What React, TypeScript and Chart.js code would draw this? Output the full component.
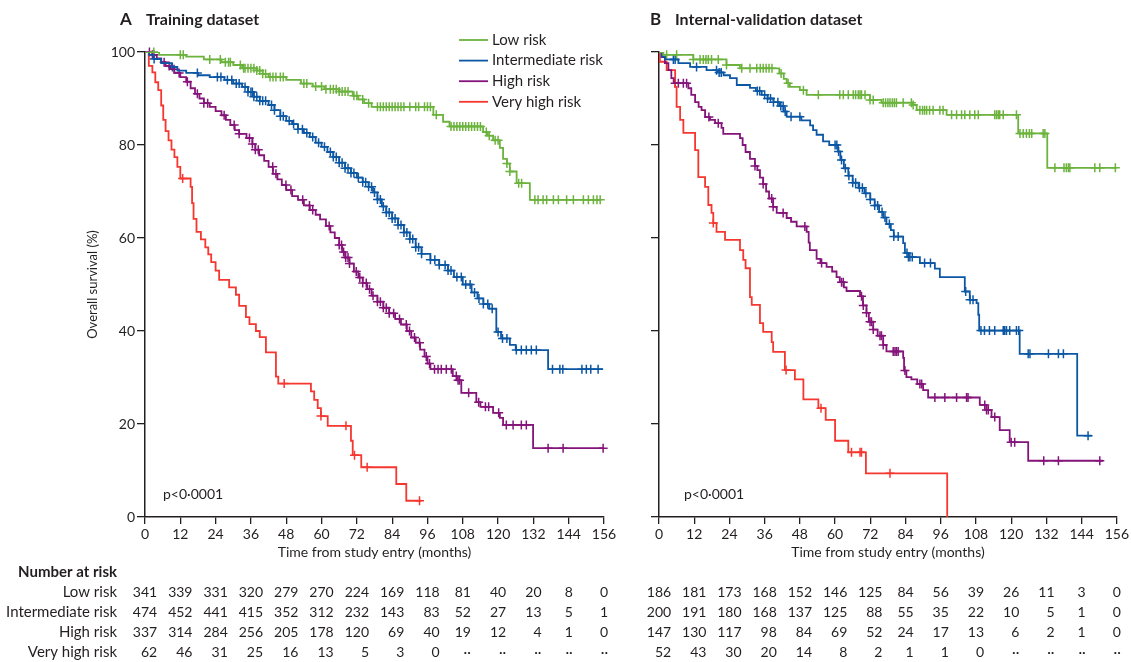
import React, { useEffect, useRef } from 'react';
import { Chart, registerables } from 'chart.js';
Chart.register(...registerables);

const FONT = 'Lato';
const TEXT = '#231f20';
const AXIS = '#231f20';
const GREEN = '#6cb33e';
const BLUE = '#0b57a4';
const PURPLE = '#84137a';
const RED = '#f5372f';

const GROUPS = ['Low risk', 'Intermediate risk', 'High risk', 'Very high risk'];
const COLORS = [GREEN, BLUE, PURPLE, RED];
const X_TITLE = 'Time from study entry (months)';
const Y_TITLE = 'Overall survival (%)';
const P_TEXT = 'p<0\u00b70001';
const RISK_TIMES = [0, 12, 24, 36, 48, 60, 72, 84, 96, 108, 120, 132, 144, 156];

// ---------- Panel A: training dataset ----------
const A_LOW_T = [0, 4.8, 14, 20, 26, 30, 33, 38, 40, 42, 48, 53, 57, 61, 66, 70.6, 72.5, 74.5, 77, 98, 101.3, 103.5, 114.9, 116.5, 118.3, 120.6, 121.7, 123, 124, 126.3, 130.8, 154.7];
const A_LOW_S = [100, 99.4, 99.0, 98.4, 97.8, 97.2, 96.5, 96.0, 95.3, 94.6, 94.0, 93.2, 92.6, 92.0, 91.5, 90.6, 89.8, 89.0, 88.2, 86.5, 85.0, 84.0, 82.8, 82.0, 81.0, 79.4, 77.0, 76.0, 74.3, 71.8, 68.2, 68.2];
const A_LOW_C = [3, 12, 13, 22, 25.6, 27.3, 28.4, 29, 32.4, 33.5, 34, 35, 36, 37, 38, 39, 40, 41, 42.5, 43.5, 44.5, 46, 47, 54, 55, 58, 60, 61.5, 63, 64, 65, 66, 67, 68, 69, 71, 72, 74, 76, 79, 80, 81, 82, 83, 84, 85, 86, 87, 88, 90, 92, 93, 95, 96, 97, 99, 104, 105, 106, 107, 108, 109, 110, 111, 112, 113, 114, 116, 117, 119, 120, 123, 124, 127, 128, 132.5, 133.6, 135.3, 136.5, 138.8, 140.5, 143.3, 145.6, 149, 150.7, 152.4, 153.6, 154.7];

const A_INT_T = [0, 1.4, 3, 5.5, 9, 11, 14, 18, 22, 27, 30, 33, 35, 37, 39, 42, 44, 46, 48, 50, 52, 54, 56, 58, 60, 62, 64, 66, 68, 70, 72, 74, 76, 77.5, 79, 80.5, 82, 84, 86, 88, 90, 92, 94, 97, 100, 103, 105, 108, 111, 113, 115, 117, 119.4, 121, 124, 126, 137, 155.7];
const A_INT_S = [100, 99.4, 98.5, 97.6, 96.8, 96.0, 95.5, 95.0, 94.6, 94.0, 93.2, 92.5, 91.4, 90.4, 89.5, 88.6, 87.5, 86.2, 85.2, 84.5, 83.4, 82.6, 81.7, 80.5, 79.6, 78.5, 77.4, 76.2, 75.0, 74.0, 73.0, 72.0, 71.0, 69.8, 68.3, 66.8, 65.5, 64.2, 62.8, 61.2, 59.8, 58.0, 56.6, 55.3, 54.2, 53.0, 51.6, 50.0, 48.3, 47.0, 45.8, 44.8, 39.8, 38.4, 37.0, 35.9, 31.8, 31.8];
const A_INT_C = [3.1, 9.3, 17.8, 24.6, 25.8, 28, 29.5, 31, 32, 34, 35, 36, 36.5, 37, 38, 39, 40, 41, 43, 44, 46, 47, 49, 50.5, 52, 53.5, 55, 57, 59, 61, 63, 64, 65, 66, 67, 68, 69, 70, 71, 72.5, 74, 75, 76, 77, 78, 79, 80, 81, 82, 83, 84, 85, 86, 87, 88, 89, 90, 91, 92, 93, 94, 97, 98.5, 100, 102, 103, 104, 106, 107.5, 109, 110.5, 112, 113.5, 115, 116.5, 118, 120, 121.5, 123, 126.2, 127.9, 129.6, 131.3, 133, 138.5, 141, 142, 148.5, 150, 151.5, 154];

const A_HIGH_T = [0, 2.5, 4, 5.5, 7, 8.5, 10, 12, 14, 15.5, 17, 18.5, 20, 22, 24, 26, 27.5, 29, 30.5, 32, 34.5, 36.5, 37.5, 38.8, 40.5, 42, 43.5, 45, 46.5, 48, 50, 52, 54, 56, 58, 59.5, 61.5, 63, 64.5, 66, 67, 68, 69.5, 71, 72.5, 74, 75.5, 77, 79, 81, 83, 85, 87, 89, 90.5, 92, 93.5, 95, 96, 97, 104.6, 106, 107.5, 112.6, 114, 118.3, 120.6, 121.7, 131.9, 156];
const A_HIGH_S = [100, 99.4, 98.6, 97.8, 97.0, 96.3, 95.5, 94.6, 93.6, 92.2, 91.0, 90.0, 89.0, 88.2, 87.3, 86.4, 85.4, 84.3, 83.2, 82.4, 81.5, 80.2, 79.0, 77.8, 76.6, 75.3, 73.8, 72.6, 71.4, 70.3, 69.0, 68.2, 67.0, 66.0, 65.0, 64.0, 62.6, 61.2, 60.0, 58.5, 57.0, 55.8, 54.5, 52.8, 51.5, 50.3, 49.0, 47.6, 46.3, 45.0, 43.8, 42.6, 41.4, 40.0, 38.6, 37.5, 36.0, 34.5, 33.0, 31.8, 30.3, 29.4, 26.7, 24.7, 23.7, 22.4, 21.3, 19.8, 14.8, 14.8];
const A_HIGH_C = [1.5, 2.5, 3, 6.5, 8.2, 9.9, 11.6, 14.4, 17.8, 20, 21.3, 26.9, 30.3, 32, 35.5, 36.5, 37.5, 38.5, 43.4, 44.5, 47.9, 49.6, 53.6, 55.9, 57, 62.6, 66, 66.8, 67.5, 68.2, 69, 69.5, 71.8, 73, 74, 75.2, 76.3, 77.5, 79, 80, 81, 82, 83, 84.5, 86.5, 88.8, 89.9, 91.6, 93.3, 95.6, 96.7, 98.4, 99.6, 100.7, 102.4, 104.1, 105.8, 106.4, 106.9, 110, 113.4, 115.7, 116.8, 120.2, 122.8, 125.1, 127.9, 129.6, 137, 142.1, 155.7];

const A_VHIGH_T = [0, 1.3, 2.5, 3.5, 4.5, 5.5, 6.2, 7, 8, 9, 10, 11, 12, 15.5, 16, 16.5, 17.5, 19, 20.5, 21.5, 22.5, 24, 25.2, 28.6, 30.9, 32, 34.3, 35.5, 37.7, 39, 41.1, 44.5, 45.3, 56.4, 57.5, 58.7, 59.8, 62.1, 70, 70.6, 73.5, 85.4, 88.8, 93.9];
const A_VHIGH_S = [100, 97, 95.6, 93.5, 91.8, 88.5, 85.4, 83, 81, 79, 77.4, 75.3, 72.8, 71, 67.5, 64.1, 61.3, 59.7, 58, 56.5, 54.8, 53, 51, 49.4, 47.8, 45.4, 43, 41.5, 40, 38.7, 35.4, 30.2, 28.7, 27, 25.2, 23.4, 21.7, 19.6, 16.4, 13.3, 10.7, 7.1, 3.5, 3.5];
const A_VHIGH_C = [12.8, 47.3, 59.8, 68.3, 71.2, 75.5, 93.3];

const A_RISK_LOW = [341, 339, 331, 320, 279, 270, 224, 169, 118, 81, 40, 20, 8, 0];
const A_RISK_INT = [474, 452, 441, 415, 352, 312, 232, 143, 83, 52, 27, 13, 5, 1];
const A_RISK_HIGH = [337, 314, 284, 256, 205, 178, 120, 69, 40, 19, 12, 4, 1, 0];
const A_RISK_VHIGH = [62, 46, 31, 25, 16, 13, 5, 3, 0, null, null, null, null, null];

// ---------- Panel B: internal-validation dataset ----------
const B_LOW_T = [0, 1.5, 11.7, 23, 27.6, 41, 42.5, 43.5, 44.6, 48, 50.3, 71.9, 75.8, 86.6, 87.8, 98, 122.4, 132.3, 156];
const B_LOW_S = [100, 99.4, 98.4, 97.2, 96.5, 95.4, 94.2, 93.3, 92.5, 91.8, 90.8, 89.7, 89.1, 88.6, 87.5, 86.5, 82.5, 75.1, 75.1];
const B_LOW_C = [2.6, 6, 11.7, 14, 15.1, 16, 16.8, 17.9, 20.2, 23, 28.2, 31, 33.3, 34.5, 35.5, 36.5, 37.5, 38.5, 41.6, 44, 49.2, 54.3, 61.6, 62.8, 64.5, 66.2, 67, 67.9, 68.5, 69, 70.2, 71.9, 73, 76.4, 77.2, 78, 78.7, 79.5, 80.2, 80.9, 83.2, 86, 86.6, 88.9, 89.8, 90.5, 91.2, 92.2, 93.4, 95.7, 96.8, 99.7, 101.4, 103.1, 104.2, 105.9, 107.6, 108.8, 114.4, 115, 115.6, 116.1, 117.3, 121.8, 123, 124.1, 125.2, 126.2, 127, 130.9, 131.5, 134.9, 138, 138.8, 139.5, 140, 148.5, 150.2, 155.5];

const B_INT_T = [0, 0.9, 2, 6.6, 10.6, 16.2, 20, 22, 24.2, 26.5, 31, 33, 35, 37, 39, 41, 42.5, 43.5, 48.5, 51.5, 52.5, 53.7, 55.9, 58, 61, 61.8, 63, 64.5, 66, 68, 70, 72, 73.5, 75, 76.4, 77.5, 79, 80, 83.2, 83.8, 85, 88.9, 94, 95.7, 104.2, 105.9, 108.2, 108.8, 109.1, 122.9, 142.5, 147.4];
const B_INT_S = [100, 99, 98.4, 97.6, 96.8, 96.1, 95.6, 95, 94.4, 92.9, 92.3, 91.6, 90.8, 90, 89.2, 88.4, 87.2, 86.1, 85.3, 84.2, 83.2, 82.2, 80.8, 80, 78.6, 76.8, 75, 73.4, 71.9, 70.8, 69.6, 68.3, 67, 65.6, 64.4, 63, 61.7, 60.3, 58.9, 56.8, 55.9, 54.6, 53.4, 51.6, 48.5, 46.7, 46, 43.5, 40.1, 35.1, 17.5, 17.5];
const B_INT_C = [4.9, 5.5, 12.8, 19.6, 20.5, 21.2, 33.5, 34.3, 36, 37, 38, 39, 40.5, 41.5, 42.3, 43, 45, 48, 60, 60.6, 61.2, 62.2, 63.5, 64.7, 66, 67, 68.3, 69.3, 70.5, 72, 73.5, 74.5, 76, 77, 78.5, 80, 81.5, 84.5, 85, 85.5, 86.3, 90.5, 92.5, 104.5, 106, 107, 109.7, 110.9, 112.6, 114.4, 117.3, 117.8, 118.4, 119.5, 121.8, 122.6, 125.8, 126.4, 132.7, 136.1, 137.8, 146.2];

const B_HIGH_T = [0, 0.9, 2, 3.2, 4.2, 5, 10, 11, 12.3, 13.5, 14.5, 15.7, 17.4, 19.1, 21.3, 21.9, 27.6, 28.5, 29.5, 31, 32.7, 33.5, 34.4, 35.5, 36.5, 37.5, 38.9, 40.1, 43.5, 45, 46.9, 50.3, 51, 51.4, 53.7, 55, 57.1, 59, 60.5, 61.6, 63, 63.9, 68.5, 69.5, 70.7, 71.5, 73, 74.5, 76.4, 77.5, 83.2, 83.5, 84.3, 86, 88, 90, 91.7, 109.3, 111.6, 113.3, 116.1, 119.5, 125.8, 151.3];
const B_HIGH_S = [100, 98.9, 97.6, 96.1, 94.4, 93.3, 92.2, 90.8, 89.2, 88.2, 87.5, 86, 85.4, 84.7, 83.7, 82.4, 81.5, 80, 78.5, 77, 75.5, 74.6, 73, 71.6, 70, 68.5, 66.7, 65.4, 64.3, 63.5, 62.5, 61.3, 59, 57.4, 55.5, 54.6, 53.8, 52.8, 51.6, 50.5, 49.4, 48.6, 47.5, 45.5, 43.9, 42, 40.3, 39, 37, 35.6, 34.2, 31.5, 30.1, 29.6, 28.6, 27.3, 25.7, 24.1, 23, 21.5, 18.7, 16.1, 12.1, 12.1];
const B_HIGH_C = [5.5, 6.6, 8.3, 9.4, 17, 20.2, 32.7, 35.5, 38.4, 38.9, 42.3, 49.7, 55.4, 62.2, 62.8, 69, 69.6, 70.7, 71.9, 72.4, 73, 75.3, 75.8, 76.4, 79.8, 80.4, 80.9, 81.5, 83.8, 88.9, 89.5, 94, 97.4, 101.4, 104.8, 105.3, 111, 111.6, 112.2, 114.4, 120, 121.2, 131.1, 136.1, 150.2];

const B_VHIGH_T = [0, 0.3, 2.6, 5.5, 6, 7.2, 8.3, 12.3, 13.4, 15.7, 16.8, 17.9, 18.5, 19.6, 22.5, 27.6, 28.7, 29.5, 31, 31.6, 34.4, 35.5, 38.4, 38.9, 42.9, 46.3, 49.2, 54.3, 56.8, 60, 64.5, 70.5, 98.2];
const B_VHIGH_S = [100, 97.9, 96.1, 92.5, 88.2, 85.4, 82.6, 78.9, 73.1, 71, 67.1, 65.4, 63.2, 61.3, 59.6, 57.4, 55.3, 53.5, 47.3, 45.6, 41.7, 39.8, 37.6, 35.5, 31.6, 29.6, 25.3, 23.4, 20.9, 16.4, 13.9, 9.4, 0];
const B_VHIGH_C = [18.5, 43.3, 55.2, 65.6, 68.5, 69, 78.7];

const B_RISK_LOW = [186, 181, 173, 168, 152, 146, 125, 84, 56, 39, 26, 11, 3, 0];
const B_RISK_INT = [200, 191, 180, 168, 137, 125, 88, 55, 35, 22, 10, 5, 1, 0];
const B_RISK_HIGH = [147, 130, 117, 98, 84, 69, 52, 24, 17, 13, 6, 2, 1, 0];
const B_RISK_VHIGH = [52, 43, 30, 20, 14, 8, 2, 1, 1, 0, null, null, null, null];

function survAt(T: number[], S: number[], t: number) {
  let v = S[0];
  for (let i = 0; i < T.length; i++) if (T[i] <= t) v = S[i];
  return v;
}

function buildDatasets(curves: [number[], number[], number[]][]) {
  const lines: any[] = [];
  const marks: any[] = [];
  curves.forEach(([T, S, C], i) => {
    lines.push({
      label: GROUPS[i],
      isCurve: true,
      data: T.map((t, k) => ({ x: t, y: S[k] })),
      stepped: true,
      borderColor: COLORS[i],
      backgroundColor: COLORS[i],
      borderWidth: 1.8,
      pointRadius: 0,
      fill: false,
    });
    marks.push({
      label: GROUPS[i] + ' censored',
      isCurve: false,
      data: C.map((t) => ({ x: t, y: survAt(T, S, t) })),
      showLine: false,
      pointStyle: 'cross',
      pointRadius: 4.5,
      pointBorderWidth: 1.5,
      borderColor: COLORS[i],
      backgroundColor: COLORS[i],
      clip: false,
    });
  });
  return [...lines, ...marks];
}

const ROW_Y = [592, 612, 632, 652];

const decoPlugin = {
  id: 'deco',
  afterDraw(chart: any, _args: any, o: any) {
    const { ctx, chartArea: ca } = chart;
    const xs = chart.scales.x;
    ctx.save();
    ctx.fillStyle = TEXT;
    ctx.textBaseline = 'middle';
    // title
    ctx.textAlign = 'left';
    ctx.font = `bold 17px ${FONT}`;
    ctx.fillText(o.letter, o.letterX, 20);
    ctx.font = `bold 16px ${FONT}`;
    ctx.fillText(o.title, o.titleX, 20);
    // y title
    if (o.yTitle) {
      ctx.save();
      ctx.translate(o.yTitleX, (ca.top + ca.bottom) / 2);
      ctx.rotate(-Math.PI / 2);
      ctx.textAlign = 'center';
      ctx.font = `13px ${FONT}`;
      ctx.fillText(Y_TITLE, 0, 0);
      ctx.restore();
    }
    // x title
    ctx.font = `14px ${FONT}`;
    ctx.textAlign = 'center';
    ctx.fillText(X_TITLE, (ca.left + ca.right) / 2, 552);
    // p value
    ctx.textAlign = 'left';
    ctx.fillText(P_TEXT, o.pX, 494);
    // legend
    if (o.legend) {
      ctx.font = `15px ${FONT}`;
      chart.data.datasets.filter((d: any) => d.isCurve).forEach((d: any, i: number) => {
        const y = o.legendY + i * 20.6;
        ctx.strokeStyle = d.borderColor;
        ctx.lineWidth = 1.8;
        ctx.beginPath();
        ctx.moveTo(o.legendX, y);
        ctx.lineTo(o.legendX + 29, y);
        ctx.stroke();
        ctx.fillStyle = TEXT;
        ctx.fillText(d.label, o.legendX + 33, y);
      });
    }
    // risk table
    if (o.rowLabels) {
      ctx.font = `bold 15px ${FONT}`;
      ctx.textAlign = 'right';
      ctx.fillText('Number at risk', 117, 572);
      ctx.font = `15px ${FONT}`;
      GROUPS.forEach((g, i) => ctx.fillText(g, 117, ROW_Y[i]));
    }
    ctx.font = `14px ${FONT}`;
    ctx.textAlign = 'right';
    RISK_TIMES.forEach((t, j) => {
      const cx = xs.getPixelForValue(t);
      const cells = o.risk.map((r: (number | null)[]) => (r[j] === null ? '\u00b7\u00b7' : String(r[j])));
      const maxW = Math.max(...cells.map((c: string) => ctx.measureText(c).width));
      cells.forEach((c: string, i: number) => ctx.fillText(c, cx + maxW / 2, ROW_Y[i]));
    });
    ctx.restore();
  },
};

function Panel({ left, width, curves, deco, yWidth, rightPad, yLabels }: any) {
  const ref = useRef<HTMLCanvasElement>(null);
  useEffect(() => {
    const chart = new Chart(ref.current as HTMLCanvasElement, {
      type: 'line',
      data: { datasets: buildDatasets(curves) },
      plugins: [decoPlugin],
      options: {
        animation: false,
        responsive: false,
        devicePixelRatio: 1,
        events: [],
        layout: { padding: { top: 52, right: rightPad, bottom: 0, left: 0 } },
        plugins: { legend: { display: false }, tooltip: { enabled: false }, deco } as any,
        scales: {
          x: {
            type: 'linear',
            min: 0,
            max: 156,
            ticks: { stepSize: 12, autoSkip: false, maxRotation: 0, color: TEXT, font: { family: FONT, size: 14 }, padding: 2 },
            grid: { drawOnChartArea: false, drawTicks: true, tickLength: 7, color: AXIS, lineWidth: 1.3 },
            border: { color: AXIS, width: 1.5 },
            afterFit: (s: any) => { s.height = 145; },
          },
          y: {
            min: 0,
            max: 100,
            ticks: { stepSize: 20, display: yLabels, color: TEXT, font: { family: FONT, size: 14 }, padding: 2 },
            grid: { drawOnChartArea: false, drawTicks: true, tickLength: 8, color: AXIS, lineWidth: 1.3 },
            border: { color: AXIS, width: 1.5 },
            afterFit: (s: any) => { s.width = yWidth; },
          },
        },
      } as any,
    });
    return () => chart.destroy();
  }, []);
  return (
    <div style={{ position: 'absolute', left, top: 0, width, height: 662 }}>
      <canvas ref={ref} width={width} height={662} style={{ display: 'block' }} />
    </div>
  );
}

export default function App() {
  const curvesA = [
    [A_LOW_T, A_LOW_S, A_LOW_C],
    [A_INT_T, A_INT_S, A_INT_C],
    [A_HIGH_T, A_HIGH_S, A_HIGH_C],
    [A_VHIGH_T, A_VHIGH_S, A_VHIGH_C],
  ];
  const curvesB = [
    [B_LOW_T, B_LOW_S, B_LOW_C],
    [B_INT_T, B_INT_S, B_INT_C],
    [B_HIGH_T, B_HIGH_S, B_HIGH_C],
    [B_VHIGH_T, B_VHIGH_S, B_VHIGH_C],
  ];
  const decoA = {
    letter: 'A', letterX: 120, title: 'Training dataset', titleX: 146,
    yTitle: true, yTitleX: 93, pX: 163, legend: true, legendX: 459, legendY: 40,
    rowLabels: true, risk: [A_RISK_LOW, A_RISK_INT, A_RISK_HIGH, A_RISK_VHIGH],
  };
  const decoB = {
    letter: 'B', letterX: 30, title: 'Internal-validation dataset', titleX: 55,
    yTitle: false, pX: 64, legend: false, rowLabels: false,
    risk: [B_RISK_LOW, B_RISK_INT, B_RISK_HIGH, B_RISK_VHIGH],
  };
  return (
    <div style={{ position: 'absolute', left: 0, top: 0, width: 1131, height: 662, background: '#fff' }}>
      <Panel left={0} width={620} curves={curvesA} deco={decoA} yWidth={145} rightPad={16} yLabels={true} />
      <Panel left={620} width={511} curves={curvesB} deco={decoB} yWidth={39} rightPad={14} yLabels={false} />
    </div>
  );
}
